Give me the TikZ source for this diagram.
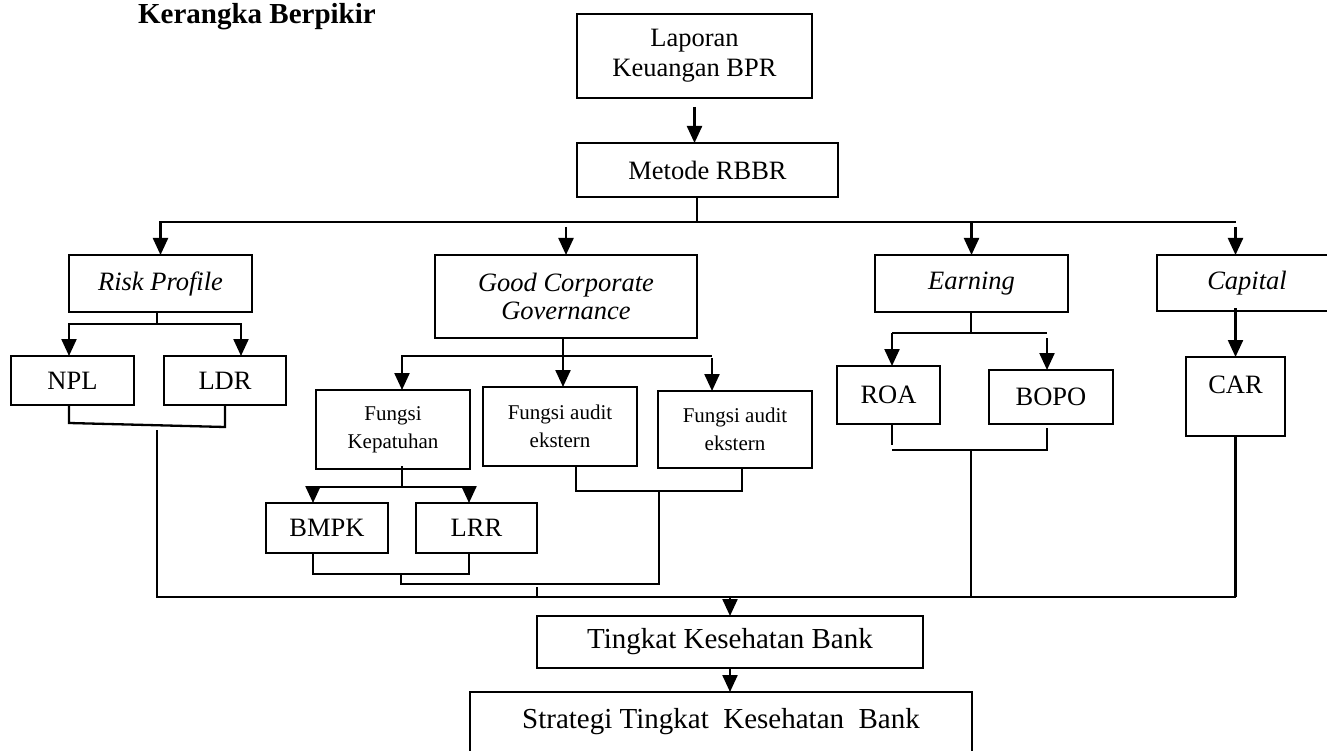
\documentclass[tikz,border=0pt]{standalone}
\usepackage{fontspec}
\setmainfont{Liberation Serif}
\usepackage{tikz}
\usetikzlibrary{positioning,arrows.meta,calc}
\newcommand{\normsize}{\fontsize{26.5}{30}\selectfont}
\newcommand{\smallsize}{\fontsize{21}{28}\selectfont}
\newcommand{\largesize}{\fontsize{29}{33}\selectfont}

\begin{document}
\begin{tikzpicture}[
  x=1pt, y=-1pt, line width=2.3pt,
  box/.style={rectangle, draw, line width=2.3pt, inner sep=0pt, outer sep=0pt,
              align=center, font=\normsize},
  smallbox/.style={box, font=\smallsize},
  arr/.style={-{Triangle[width=15pt,length=17pt]}}
]
  \useasboundingbox (0,0) rectangle (1327,751);
  \node[anchor=base west, inner sep=0pt, font=\largesize\bfseries] (title) at (137,24) {Kerangka Berpikir};
  \node[box, minimum width=235pt, minimum height=84pt] (lap) at (694.5,56) {Laporan\\Keuangan BPR};
  \node[box, minimum width=261pt, minimum height=54pt] (met) at (707.5,170) {Metode RBBR};
  \node[box, minimum width=183pt, minimum height=57pt] (risk) at (160.5,283.5) {\textit{Risk Profile}};
  \node[box, minimum width=262pt, minimum height=83pt, font=\fontsize{26.5}{28}\selectfont] (gcg) at (566,296.5) {\textit{Good Corporate}\\\textit{Governance}};
  \node[box, minimum width=193pt, minimum height=57pt] (earn) at (971.5,283.5) {\textit{Earning}};
  \node[box, minimum width=180pt, minimum height=56pt] (cap) at (1247,283) {\textit{Capital}};
  \node[box, minimum width=123pt, minimum height=49pt] (npl) at (72.5,380.5) {NPL};
  \node[box, minimum width=122pt, minimum height=49pt] (ldr) at (225,380.5) {LDR};
  \node[smallbox, minimum width=154pt, minimum height=79pt] (kep) at (393,429.5) {Fungsi\\Kepatuhan};
  \node[smallbox, minimum width=154pt, minimum height=79pt] (aud1) at (560,426.5) {Fungsi audit\\ekstern};
  \node[smallbox, minimum width=154pt, minimum height=77pt] (aud2) at (735,429.5) {Fungsi audit\\ekstern};
  \node[box, minimum width=122pt, minimum height=50pt] (bmpk) at (327,528) {BMPK};
  \node[box, minimum width=121pt, minimum height=50pt] (lrr) at (476.5,528) {LRR};
  \node[box, minimum width=103pt, minimum height=58pt] (roa) at (888.5,395) {ROA};
  \node[box, minimum width=124pt, minimum height=54pt] (bopo) at (1051,397) {BOPO};
  \node[box, minimum width=99pt, minimum height=79pt, text height=18pt, text depth=25pt] (car) at (1235.5,396.5) {CAR};
  \node[box, font=\largesize, minimum width=386pt, minimum height=52pt] (tkb) at (730,642) {Tingkat Kesehatan Bank};
  \node[box, font=\largesize, anchor=north, minimum width=502pt, minimum height=80pt,
        text height=20pt, text depth=28pt] (stb) at (721,692) {Strategi Tingkat\ \ Kesehatan\ \ Bank};

  % junction points
  \coordinate (j0) at (697,222);
  \coordinate (rj) at (157,324);
  \coordinate (rd) at (157,430);
  \coordinate (gj) at (563,356);
  \coordinate (ga) at (712,356);
  \coordinate (kj) at (402,487);
  \coordinate (kl) at (313,487);
  \coordinate (kr) at (469,487);
  \coordinate (kb) at (401,574);
  \coordinate (kc) at (659,584);
  \coordinate (ab) at (659,491);
  \coordinate (aj) at (576,491);
  \coordinate (ak) at (742,491);
  \coordinate (tk) at (537,587);
  \coordinate (ej) at (971,333);
  \coordinate (el) at (892,333);
  \coordinate (er) at (1047,333);
  \coordinate (eb) at (971,450);
  \coordinate (bl) at (157,597);
  \coordinate (br) at (1235.5,597);

  % top part
  \draw[arr] ([yshift=-9pt]lap.south) -- (lap.south |- met.north);
  \draw (j0 |- met.south) -- (j0);
  \draw[arr] (j0) -| (risk.north);
  \draw (j0) -- (j0 -| br);
  \draw[arr] (j0 -| earn.north) -- (earn.north);
  \draw[arr] ([yshift=-5pt]j0 -| gcg.north) -- (gcg.north);
  \draw[arr] ([yshift=-5pt]j0 -| br) -- (br |- cap.north);

  % risk profile
  \draw (risk.south -| rj) -- (rj);
  \draw[arr] (rj) -| ([xshift=-3.5pt]npl.north);
  \draw[arr] (rj) -| ([xshift=16pt]ldr.north);
  \draw ([xshift=-3.5pt]npl.south) -- ++(0,18) -- ([yshift=-22pt]ldr.south) -- (ldr.south);
  \draw (rd) -- (bl) -- (br);

  % good corporate governance
  \draw (gcg.south -| gj) -- (gj);
  \draw[arr] (gj) -| ([xshift=9pt]kep.north);
  \draw (gj) -- (ga);
  \draw[arr] (gj) -- (gj |- aud1.north);
  \draw[arr] ([yshift=-2pt]ga) -- (ga |- aud2.north);
  \draw ([yshift=3pt]kep.south -| kj) -- (kj);
  \draw (kl) -- (kr);
  \draw[arr] (kl) -- (kl |- bmpk.north);
  \draw[arr] (kr) -- (kr |- lrr.north);
  \draw (kl |- bmpk.south) -- (kl |- kb) -- (kr |- kb) -- (kr |- lrr.south);
  \draw (kb) -- (kb |- kc) -- (kc) -- (ab);
  \draw (aj |- aud1.south) -- (aj) -- (ak) -- (ak |- aud2.south);
  \draw (tk) -- (tk |- bl);

  % earning
  \draw (earn.south -| ej) -- (ej);
  \draw (el) -- (er);
  \draw[arr] (el) -- (el |- roa.north);
  \draw[arr] ([yshift=-5pt]er) -- (er |- bopo.north);
  \draw (el |- roa.south) -- ++(0,21);
  \draw (el |- eb) -- (er |- eb) -- ([yshift=-4pt]er |- bopo.south);
  \draw (eb) -- (eb |- bl);

  % capital
  \draw[arr] ([yshift=3pt]br |- cap.south) -- (car.north);
  \draw (car.south) -- (br);

  % bottom
  \draw[arr] (tkb.north |- bl) -- (tkb.north);
  \draw[arr] (tkb.south) -- (tkb.south |- stb.north);
\end{tikzpicture}
\end{document}
